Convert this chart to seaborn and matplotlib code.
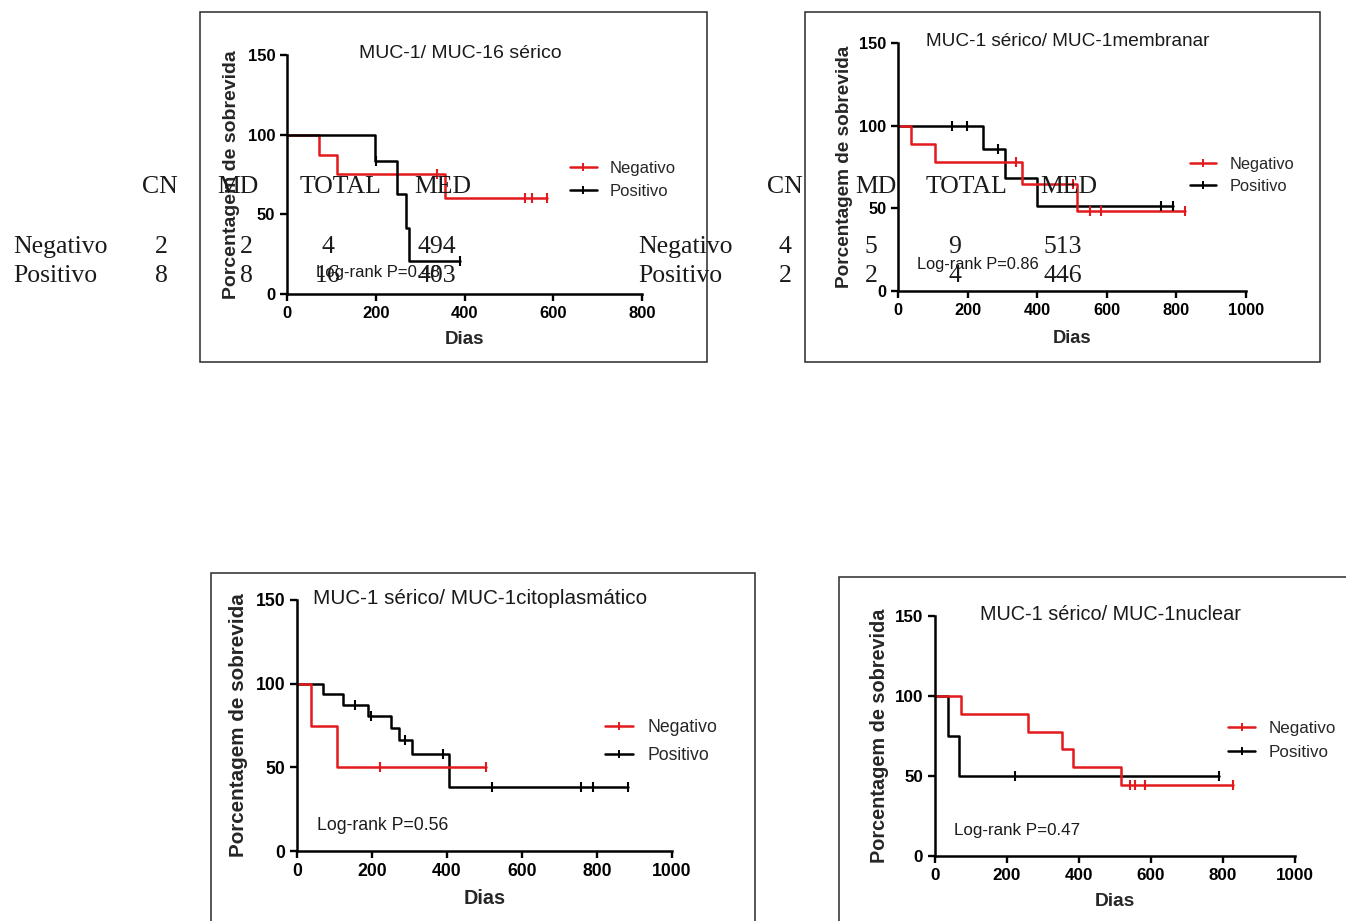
import numpy as np
import seaborn as sns
import matplotlib.pyplot as plt
from matplotlib.lines import Line2D
from matplotlib.patches import Rectangle

W, H = 1346, 921
RED = "#e3191c"

# ---- panel 1: MUC-1/ MUC-16 sérico ----
p1_neg_t = [0, 73, 112, 356, 586]
p1_neg_s = [100, 87.5, 75, 60, 60]
p1_neg_ct = [337, 537, 551, 586]
p1_neg_cs = [75, 60, 60, 60]
p1_pos_t = [0, 198, 249, 269, 275, 390]
p1_pos_s = [100, 83.3, 62.5, 41.7, 20.8, 20.8]
p1_pos_ct = [200, 390]
p1_pos_cs = [83.3, 20.8]

# ---- panel 2: MUC-1 sérico/ MUC-1membranar ----
p2_neg_t = [0, 38, 107, 355, 513, 826]
p2_neg_s = [100, 88.9, 77.8, 64.8, 48.6, 48.6]
p2_neg_ct = [338, 503, 551, 583, 826]
p2_neg_cs = [77.8, 64.8, 48.6, 48.6, 48.6]
p2_pos_t = [0, 244, 308, 400, 790]
p2_pos_s = [100, 85.7, 68.6, 51.4, 51.4]
p2_pos_ct = [155, 198, 288, 755, 790]
p2_pos_cs = [100, 100, 85.7, 51.4, 51.4]

# ---- panel 3: MUC-1 sérico/ MUC-1citoplasmático ----
p3_neg_t = [0, 37, 106, 505]
p3_neg_s = [100, 75, 50, 50]
p3_neg_ct = [222, 505]
p3_neg_cs = [50, 50]
p3_pos_t = [0, 68, 122, 189, 251, 271, 307, 404, 883]
p3_pos_s = [100, 93.8, 87.5, 80.8, 73.5, 66.1, 57.8, 38.5, 38.5]
p3_pos_ct = [154, 196, 288, 390, 519, 758, 790, 883]
p3_pos_cs = [87.5, 80.8, 66.1, 57.8, 38.5, 38.5, 38.5, 38.5]

# ---- panel 4: MUC-1 sérico/ MUC-1nuclear ----
p4_neg_t = [0, 71, 257, 354, 382, 517, 829]
p4_neg_s = [100, 88.9, 77.8, 66.7, 55.6, 44.4, 44.4]
p4_neg_ct = [542, 556, 583, 829]
p4_neg_cs = [44.4, 44.4, 44.4, 44.4]
p4_pos_t = [0, 37, 67, 790]
p4_pos_s = [100, 75, 50, 50]
p4_pos_ct = [222, 790]
p4_pos_cs = [50, 50]

groups = ["Negativo", "Positivo"]
yticks = [0, 50, 100, 150]

# tables (top row)
tab_header = ["CN", "MD", "TOTAL", "MED"]
tab1_neg = ["2", "2", "4", "494"]
tab1_pos = ["8", "8", "16", "403"]
tab2_neg = ["4", "5", "9", "513"]
tab2_pos = ["2", "2", "4", "446"]

sns.set_theme(style="ticks")
plt.rcParams["font.family"] = ["Liberation Sans", "DejaVu Sans"]

fig = plt.figure(figsize=(W / 100, H / 100), dpi=100)
fig.patch.set_facecolor("white")


def fx(x):
    return x / W


def fy(y):
    return 1 - y / H


def box(x0, y0, x1, y1):
    fig.add_artist(Rectangle((fx(x0), fy(y1)), fx(x1) - fx(x0), (y1 - y0) / H,
                             transform=fig.transFigure, fill=False,
                             ec="#2a2a2a", lw=1.1, zorder=0))


def panel(rect, xmax, neg, pos, title, title_xy, logrank, lr_xy, leg_xy,
          k=1.0, leg_space=0.45, red_first=False, ylab_x=-0.155, xlab_y=-0.19):
    x0, x1, yt, yb = rect
    ax = fig.add_axes([fx(x0), fy(yb), fx(x1) - fx(x0), (yb - yt) / H])
    ax.set_facecolor("none")
    series = [(pos, "black"), (neg, RED)]
    if red_first:
        series = series[::-1]
    for (t, s, ct, cs), col in series:
        sns.lineplot(x=t, y=s, ax=ax, color=col, lw=1.8, estimator=None,
                     drawstyle="steps-post", clip_on=False)
        sns.scatterplot(x=ct, y=cs, ax=ax, color=col, marker="|", s=45,
                        linewidth=1.5, clip_on=False, zorder=3)
    ax.set_xlim(0, xmax)
    ax.set_ylim(0, 150)
    ax.set_xticks(np.arange(0, xmax + 1, 200))
    ax.set_yticks(yticks)
    sns.despine(ax=ax)
    for sp in ("left", "bottom"):
        ax.spines[sp].set_linewidth(1.8)
        ax.spines[sp].set_color("black")
    ax.tick_params(width=1.7, length=5, pad=3.5, labelsize=12 * k, colors="black")
    plt.setp(ax.get_xticklabels() + ax.get_yticklabels(), fontweight="bold")
    ax.set_xlabel("Dias", fontsize=13.5 * k, fontweight="bold", va="center")
    ax.xaxis.set_label_coords(0.5, xlab_y)
    ax.set_ylabel("Porcentagem de sobrevida", fontsize=14 * k,
                  fontweight="bold", va="center")
    ax.yaxis.set_label_coords(ylab_x, 0.5)
    handles = [Line2D([], [], color=RED, lw=1.8, marker="|", ms=6, mew=1.4),
               Line2D([], [], color="black", lw=1.8, marker="|", ms=6, mew=1.4)]
    ax.legend(handles, groups, loc="center left", bbox_to_anchor=leg_xy,
              frameon=False, borderaxespad=0, borderpad=0, handlelength=1.6,
              handletextpad=0.8, labelspacing=leg_space, fontsize=12 * k)
    fig.text(fx(title_xy[0]), fy(title_xy[1]), title, ha="center", va="center",
             fontsize=14 * k, color="#1a1a1a")
    fig.text(fx(lr_xy[0]), fy(lr_xy[1]), logrank, ha="left", va="center",
             fontsize=12 * k, color="#1a1a1a")
    return ax


box(200, 12, 707, 362)
box(805, 12, 1320, 362)
box(211, 573, 755, 925)
box(839, 577, 1350, 925)

panel((287, 642, 55, 294), 800,
      (p1_neg_t, p1_neg_s, p1_neg_ct, p1_neg_cs),
      (p1_pos_t, p1_pos_s, p1_pos_ct, p1_pos_cs),
      "MUC-1/ MUC-16 sérico", (460, 53), "Log-rank P=0.48", (316, 273),
      (0.797, 0.477), k=1.0, leg_space=0.45, red_first=True)

panel((898, 1246, 43, 291), 1000,
      (p2_neg_t, p2_neg_s, p2_neg_ct, p2_neg_cs),
      (p2_pos_t, p2_pos_s, p2_pos_ct, p2_pos_cs),
      "MUC-1 sérico/ MUC-1membranar", (1068, 41), "Log-rank P=0.86", (917, 265),
      (0.839, 0.466), k=0.98, leg_space=0.45)

panel((297, 672, 600, 851), 1000,
      (p3_neg_t, p3_neg_s, p3_neg_ct, p3_neg_cs),
      (p3_pos_t, p3_pos_s, p3_pos_ct, p3_pos_cs),
      "MUC-1 sérico/ MUC-1citoplasmático", (480, 598), "Log-rank P=0.56", (317, 825),
      (0.821, 0.436), k=1.06, leg_space=0.6)

panel((935, 1295, 616, 856), 1000,
      (p4_neg_t, p4_neg_s, p4_neg_ct, p4_neg_cs),
      (p4_pos_t, p4_pos_s, p4_pos_ct, p4_pos_cs),
      "MUC-1 sérico/ MUC-1nuclear", (1110, 614), "Log-rank P=0.47", (954, 830),
      (0.814, 0.481), k=1.02, leg_space=0.5)


# serif tables overlaid on the top row
def table(header_x, col_x, label_x, neg_vals, pos_vals):
    serif = dict(family=["Liberation Serif", "DejaVu Serif"], fontsize=18.5,
                 color="#1a1a1a", va="baseline", zorder=5)
    for name, x in zip(tab_header, header_x):
        fig.text(fx(x), fy(193), name, ha="center", **serif)
    for label, vals, yb in (("Negativo", neg_vals, 253), ("Positivo", pos_vals, 282)):
        fig.text(fx(label_x), fy(yb), label, ha="left", **serif)
        for v, x in zip(vals, col_x):
            fig.text(fx(x), fy(yb), v, ha="center", **serif)


table([160, 238, 340, 443], [161, 246, 328, 437], 13, tab1_neg, tab1_pos)
table([785, 876, 966, 1069], [785, 871, 955, 1063], 638, tab2_neg, tab2_pos)

fig.savefig("out.png", dpi=100, facecolor="white")
